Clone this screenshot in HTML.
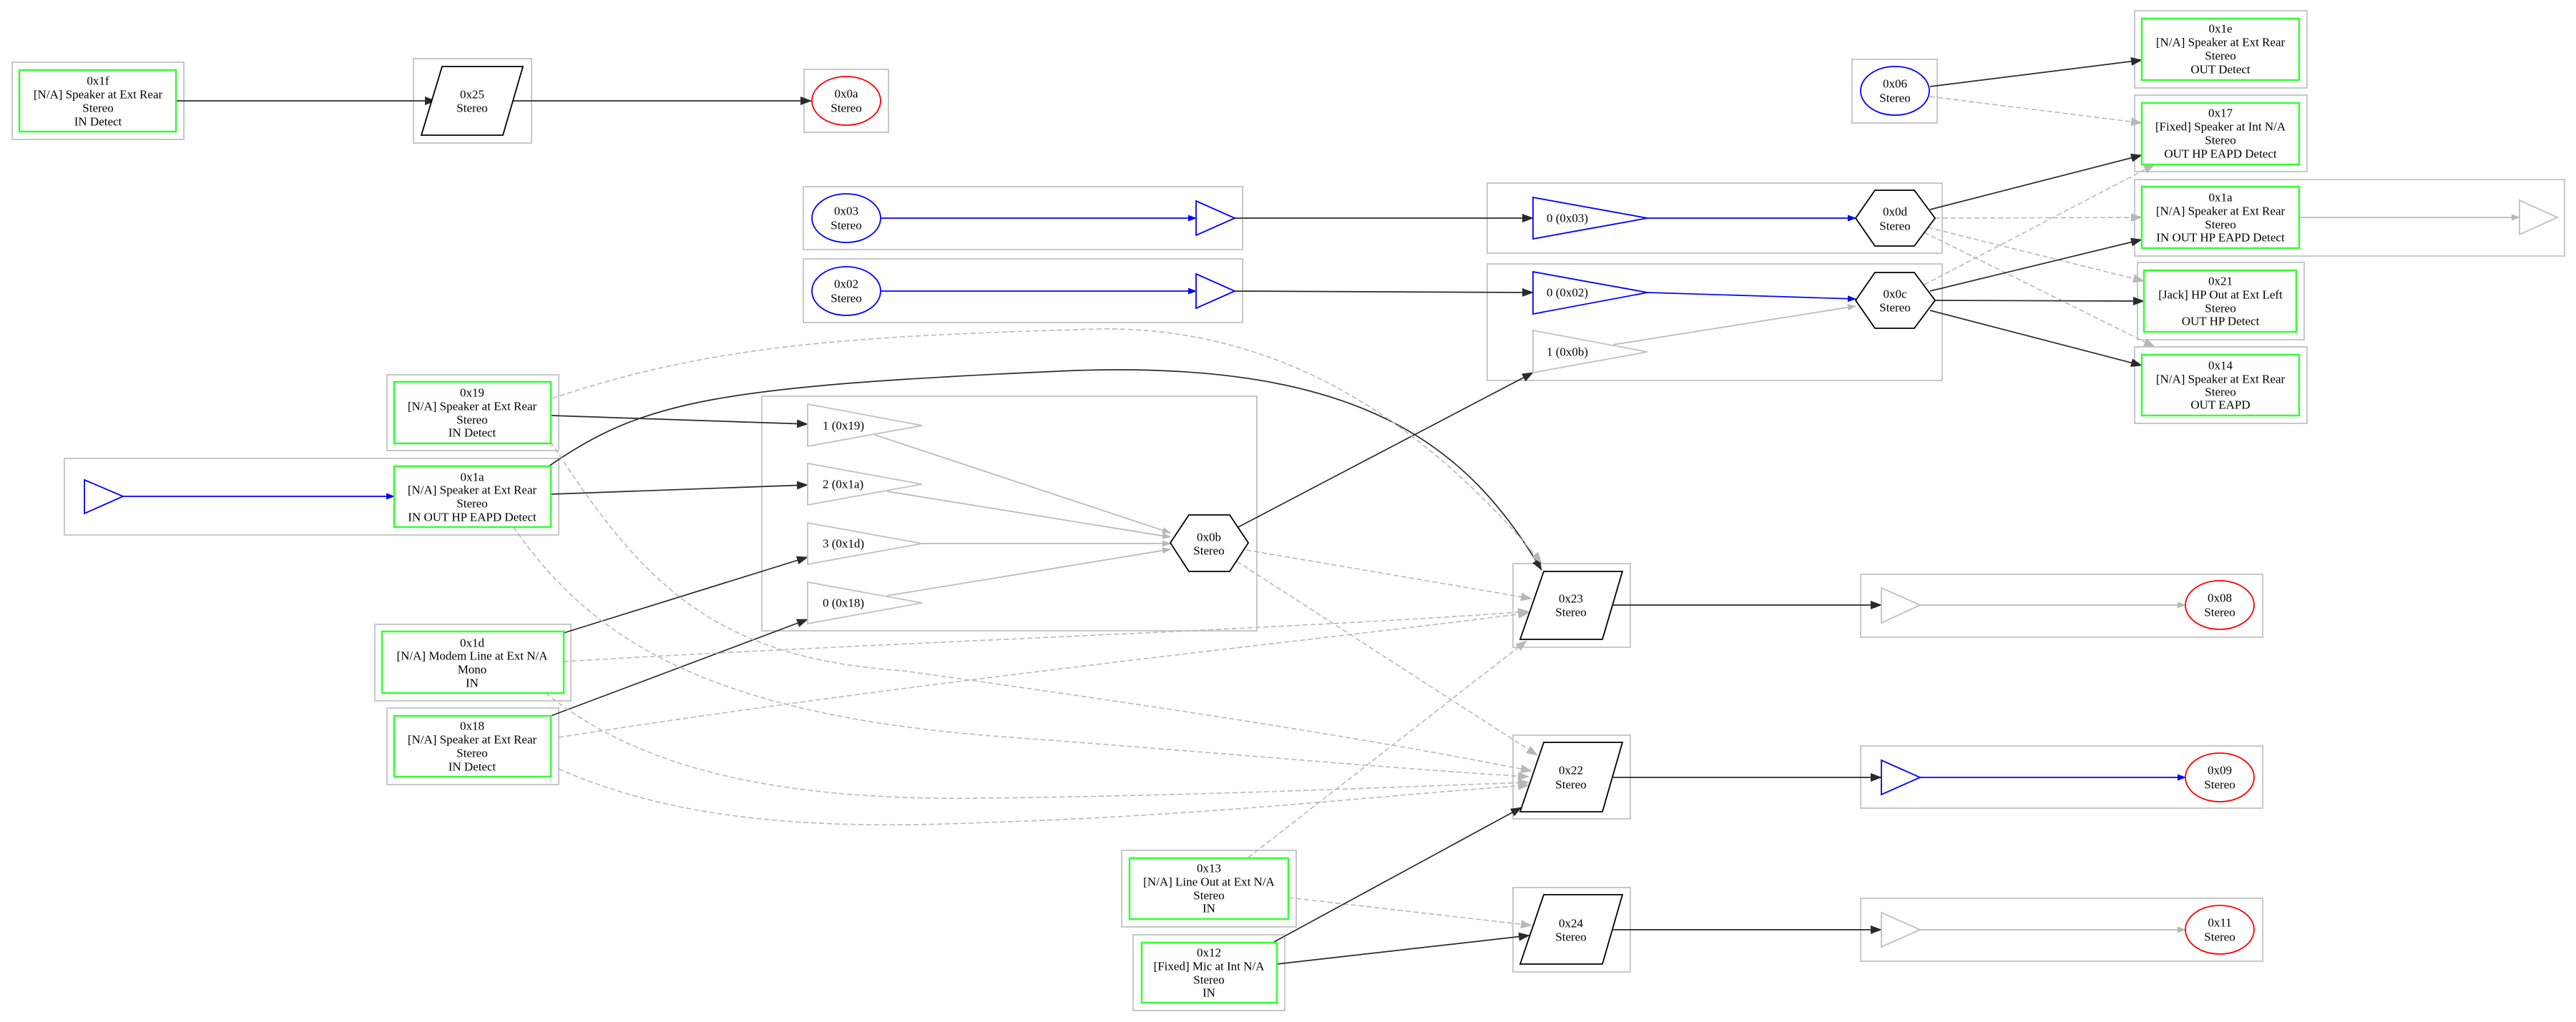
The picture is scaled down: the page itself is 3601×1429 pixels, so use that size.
<!DOCTYPE html>
<html><head><meta charset="utf-8"><style>
html,body{margin:0;padding:0;background:#fff;}
svg{display:block;}
text{font-family:"Liberation Serif",serif;font-size:17px;fill:#000;text-anchor:middle;dominant-baseline:central;}
.cl{fill:none;stroke:#c8c8c8;stroke-width:2;}
.gn{fill:none;stroke:#33ff33;stroke-width:2.5;}
.k{fill:none;stroke:#2a2a2a;stroke-width:1.7;}
.g{fill:none;stroke:#b8b8b8;stroke-width:1.7;}
.gd{fill:none;stroke:#b8b8b8;stroke-width:1.6;stroke-dasharray:7,4;}
.b{fill:none;stroke:#0000ff;stroke-width:1.7;}
.sh{fill:#fff;stroke:#000;stroke-width:1.8;}
.tb{fill:#fff;stroke:#0000ff;stroke-width:1.8;}
.tg{fill:#fff;stroke:#c0c0c0;stroke-width:1.8;}
</style></head><body>
<svg width="3601" height="1429" viewBox="0 0 3601 1429" xmlns="http://www.w3.org/2000/svg">
<defs>
<marker id="ak" markerUnits="userSpaceOnUse" markerWidth="16" markerHeight="12" refX="15" refY="6" orient="auto"><path d="M0,0 L16,6 L0,12 z" fill="#2a2a2a"/></marker>
<marker id="ag" markerUnits="userSpaceOnUse" markerWidth="16" markerHeight="12" refX="15" refY="6" orient="auto"><path d="M0,0 L16,6 L0,12 z" fill="#b8b8b8"/></marker>
<marker id="ab" markerUnits="userSpaceOnUse" markerWidth="12" markerHeight="9" refX="11" refY="4.5" orient="auto"><path d="M0,0 L12,4.5 L0,9 z" fill="#0000ff"/></marker>
<marker id="as" markerUnits="userSpaceOnUse" markerWidth="12" markerHeight="9" refX="11" refY="4.5" orient="auto"><path d="M0,0 L12,4.5 L0,9 z" fill="#b8b8b8"/></marker>
</defs>

<rect class="cl" x="17" y="87" width="240" height="108"/>
<rect class="cl" x="578" y="82" width="165" height="118"/>
<rect class="cl" x="1124" y="97" width="118" height="88"/>
<rect class="cl" x="1123" y="261" width="614" height="88"/>
<rect class="cl" x="1123" y="362" width="614" height="89"/>
<rect class="cl" x="2589" y="83" width="119" height="89"/>
<rect class="cl" x="2984" y="15" width="241" height="108"/>
<rect class="cl" x="2984" y="133" width="241" height="107"/>
<rect class="cl" x="2984" y="251" width="601" height="107"/>
<rect class="cl" x="2988" y="367" width="233" height="108"/>
<rect class="cl" x="2984" y="485" width="241" height="107"/>
<rect class="cl" x="2079" y="256" width="636" height="98"/>
<rect class="cl" x="2079" y="369" width="636" height="163"/>
<rect class="cl" x="541" y="524" width="240" height="106"/>
<rect class="cl" x="90" y="641" width="691" height="107"/>
<rect class="cl" x="524" y="873" width="274" height="107"/>
<rect class="cl" x="541" y="990" width="240" height="107"/>
<rect class="cl" x="1065" y="554" width="692" height="328"/>
<rect class="cl" x="1568" y="1189" width="244" height="107"/>
<rect class="cl" x="1584" y="1307" width="212" height="106"/>
<rect class="cl" x="2115" y="788" width="164" height="117"/>
<rect class="cl" x="2115" y="1028" width="164" height="117"/>
<rect class="cl" x="2115" y="1241" width="164" height="118"/>
<rect class="cl" x="2601" y="803" width="562" height="88"/>
<rect class="cl" x="2601" y="1043" width="562" height="87"/>
<rect class="cl" x="2601" y="1256" width="562" height="88"/>

<path class="k" d="M246,141 L609,141" marker-end="url(#ak)"/>
<path class="k" d="M717,141 L1134,141" marker-end="url(#ak)"/>
<path class="b" d="M1232,305 L1672,305" marker-end="url(#ab)"/>
<path class="b" d="M1232,407 L1672,407" marker-end="url(#ab)"/>
<path class="k" d="M1726,305 L2143,305" marker-end="url(#ak)"/>
<path class="k" d="M1726,407 L2143,409" marker-end="url(#ak)"/>
<path class="b" d="M2303,305 L2594,305" marker-end="url(#ab)"/>
<path class="b" d="M2303,409 L2594,418" marker-end="url(#ab)"/>
<path class="g" d="M2255,482 L2594,428" marker-end="url(#as)"/>
<path class="k" d="M2698,121 L2994,84" marker-end="url(#ak)"/>
<path class="gd" d="M2698,135 L2994,172" marker-end="url(#ag)"/>
<path class="k" d="M2698,293 L2994,217" marker-end="url(#ak)"/>
<path class="gd" d="M2705,305 L2994,304" marker-end="url(#ag)"/>
<path class="gd" d="M2695,318 L2997,393" marker-end="url(#ag)"/>
<path class="gd" d="M2690,325 L3012,485" marker-end="url(#ag)"/>
<path class="gd" d="M2690,398 L3012,230" marker-end="url(#ag)"/>
<path class="k" d="M2698,407 L2994,335" marker-end="url(#ak)"/>
<path class="k" d="M2705,420 L2997,421" marker-end="url(#ak)"/>
<path class="k" d="M2698,434 L2994,511" marker-end="url(#ak)"/>
<path class="g" d="M3214,304 L3522,304" marker-end="url(#as)"/>
<path class="b" d="M172,694 L551,694" marker-end="url(#ab)"/>
<path class="k" d="M770,581 L1129,593" marker-end="url(#ak)"/>
<path class="k" d="M770,691 L1129,678" marker-end="url(#ak)"/>
<path class="k" d="M788,885 L1129,779" marker-end="url(#ak)"/>
<path class="k" d="M770,1001 L1129,866" marker-end="url(#ak)"/>
<path class="g" d="M1223,608 L1636,745" marker-end="url(#as)"/>
<path class="g" d="M1240,687 L1636,751" marker-end="url(#as)"/>
<path class="g" d="M1289,760 L1636,760" marker-end="url(#as)"/>
<path class="g" d="M1240,833 L1636,768" marker-end="url(#as)"/>
<path class="k" d="M1729,738 L2143,521" marker-end="url(#ak)"/>
<path class="gd" d="M1742,769 L2141,837" marker-end="url(#ag)"/>
<path class="gd" d="M1729,785 L2149,1056" marker-end="url(#ag)"/>
<path class="k" d="M767,652 C900,560 1000,540 1504,518 C1900,505 2050,620 2155,797" marker-end="url(#ak)"/>
<path class="gd" d="M772,557 C1000,480 1200,470 1533,460 C1800,455 2000,600 2155,787" marker-end="url(#ag)"/>
<path class="gd" d="M788,925 C1200,900 1800,880 2137,855" marker-end="url(#ag)"/>
<path class="gd" d="M781,1031 C1300,950 1800,900 2137,857" marker-end="url(#ag)"/>
<path class="gd" d="M770,618 C900,820 1000,920 1263,938 C1600,985 1900,1030 2141,1078" marker-end="url(#ag)"/>
<path class="gd" d="M718,737 C830,900 1000,1000 1400,1030 C1700,1052 1950,1075 2137,1086" marker-end="url(#ag)"/>
<path class="gd" d="M763,969 C900,1080 1100,1120 1378,1116 C1700,1112 1950,1100 2137,1094" marker-end="url(#ag)"/>
<path class="gd" d="M781,1075 C950,1150 1150,1160 1378,1150 C1700,1140 1950,1110 2137,1098" marker-end="url(#ag)"/>
<path class="gd" d="M1745,1199 L2134,896" marker-end="url(#ag)"/>
<path class="gd" d="M1801,1255 L2141,1294" marker-end="url(#ag)"/>
<path class="k" d="M1781,1317 L2127,1129" marker-end="url(#ak)"/>
<path class="k" d="M1785,1348 L2138,1308" marker-end="url(#ak)"/>
<path class="k" d="M2255,846 L2630,846" marker-end="url(#ak)"/>
<path class="k" d="M2255,1087 L2630,1087" marker-end="url(#ak)"/>
<path class="k" d="M2255,1300 L2630,1300" marker-end="url(#ak)"/>
<path class="g" d="M2684,846 L3055,846" marker-end="url(#as)"/>
<path class="b" d="M2684,1087 L3055,1087" marker-end="url(#ab)"/>
<path class="g" d="M2684,1300 L3055,1300" marker-end="url(#as)"/>

<rect class="gn" x="27" y="98" width="219" height="86" fill="#fff"/>
<text x="137" y="113">0x1f</text><text x="137" y="132">[N/A] Speaker at Ext Rear</text><text x="137" y="151">Stereo</text><text x="137" y="170">IN Detect</text>

<rect class="gn" x="2994" y="26" width="220" height="86" fill="#fff"/>
<text x="3104" y="40">0x1e</text><text x="3104" y="59">[N/A] Speaker at Ext Rear</text><text x="3104" y="78">Stereo</text><text x="3104" y="97">OUT Detect</text>
<rect class="gn" x="2994" y="144" width="220" height="86" fill="#fff"/>
<text x="3104" y="158">0x17</text><text x="3104" y="177">[Fixed] Speaker at Int N/A</text><text x="3104" y="196">Stereo</text><text x="3104" y="215">OUT HP EAPD Detect</text>
<rect class="gn" x="2994" y="261" width="220" height="86" fill="#fff"/>
<text x="3104" y="276">0x1a</text><text x="3104" y="295">[N/A] Speaker at Ext Rear</text><text x="3104" y="314">Stereo</text><text x="3104" y="332">IN OUT HP EAPD Detect</text>
<rect class="gn" x="2997" y="378" width="213" height="86" fill="#fff"/>
<text x="3104" y="393">0x21</text><text x="3104" y="412">[Jack] HP Out at Ext Left</text><text x="3104" y="431">Stereo</text><text x="3104" y="449">OUT HP Detect</text>
<rect class="gn" x="2994" y="496" width="220" height="85" fill="#fff"/>
<text x="3104" y="511">0x14</text><text x="3104" y="530">[N/A] Speaker at Ext Rear</text><text x="3104" y="548">Stereo</text><text x="3104" y="566">OUT EAPD</text>

<rect class="gn" x="551" y="534" width="219" height="86" fill="#fff"/>
<text x="660" y="549">0x19</text><text x="660" y="568">[N/A] Speaker at Ext Rear</text><text x="660" y="587">Stereo</text><text x="660" y="605">IN Detect</text>
<rect class="gn" x="551" y="652" width="219" height="85" fill="#fff"/>
<text x="660" y="667">0x1a</text><text x="660" y="685">[N/A] Speaker at Ext Rear</text><text x="660" y="704">Stereo</text><text x="660" y="723">IN OUT HP EAPD Detect</text>
<rect class="gn" x="534" y="883" width="254" height="86" fill="#fff"/>
<text x="660" y="899">0x1d</text><text x="660" y="917">[N/A] Modem Line at Ext N/A</text><text x="660" y="936">Mono</text><text x="660" y="955">IN</text>
<rect class="gn" x="551" y="1001" width="219" height="85" fill="#fff"/>
<text x="660" y="1015">0x18</text><text x="660" y="1034">[N/A] Speaker at Ext Rear</text><text x="660" y="1053">Stereo</text><text x="660" y="1072">IN Detect</text>
<rect class="gn" x="1579" y="1200" width="222" height="85" fill="#fff"/>
<text x="1690" y="1214">0x13</text><text x="1690" y="1233">[N/A] Line Out at Ext N/A</text><text x="1690" y="1252">Stereo</text><text x="1690" y="1270">IN</text>
<rect class="gn" x="1596" y="1318" width="189" height="84" fill="#fff"/>
<text x="1690" y="1332">0x12</text><text x="1690" y="1351">[Fixed] Mic at Int N/A</text><text x="1690" y="1370">Stereo</text><text x="1690" y="1388">IN</text>

<polygon class="sh" points="618,93 731,93 703,189 589,189"/>
<text x="660" y="132">0x25</text><text x="660" y="151">Stereo</text>
<polygon class="sh" points="2158,799 2268,799 2240,894 2125,894"/>
<text x="2196" y="837">0x23</text><text x="2196" y="856">Stereo</text>
<polygon class="sh" points="2158,1038 2268,1038 2240,1135 2125,1135"/>
<text x="2196" y="1077">0x22</text><text x="2196" y="1097">Stereo</text>
<polygon class="sh" points="2158,1251 2268,1251 2240,1348 2125,1348"/>
<text x="2196" y="1291">0x24</text><text x="2196" y="1310">Stereo</text>

<ellipse cx="1183" cy="141" rx="48" ry="34" fill="#fff" stroke="#ff0000" stroke-width="1.8"/>
<text x="1183" y="131">0x0a</text><text x="1183" y="151">Stereo</text>
<ellipse cx="1183" cy="305" rx="48" ry="34" fill="#fff" stroke="#0000ff" stroke-width="1.8"/>
<text x="1183" y="295">0x03</text><text x="1183" y="315">Stereo</text>
<ellipse cx="1183" cy="407" rx="48" ry="34" fill="#fff" stroke="#0000ff" stroke-width="1.8"/>
<text x="1183" y="397">0x02</text><text x="1183" y="417">Stereo</text>
<ellipse cx="2649" cy="127" rx="48" ry="34" fill="#fff" stroke="#0000ff" stroke-width="1.8"/>
<text x="2649" y="117">0x06</text><text x="2649" y="137">Stereo</text>
<ellipse cx="3103" cy="846" rx="48" ry="34" fill="#fff" stroke="#ff0000" stroke-width="1.8"/>
<text x="3103" y="836">0x08</text><text x="3103" y="856">Stereo</text>
<ellipse cx="3103" cy="1087" rx="48" ry="34" fill="#fff" stroke="#ff0000" stroke-width="1.8"/>
<text x="3103" y="1077">0x09</text><text x="3103" y="1097">Stereo</text>
<ellipse cx="3103" cy="1300" rx="48" ry="34" fill="#fff" stroke="#ff0000" stroke-width="1.8"/>
<text x="3103" y="1290">0x11</text><text x="3103" y="1310">Stereo</text>

<polygon class="sh" points="2594,305 2621,266 2676,266 2705,305 2676,344 2621,344"/>
<text x="2649" y="296">0x0d</text><text x="2649" y="316">Stereo</text>
<polygon class="sh" points="2594,420 2621,381 2676,381 2705,420 2676,459 2621,459"/>
<text x="2649" y="411">0x0c</text><text x="2649" y="430">Stereo</text>
<polygon class="sh" points="1636,759 1662,720 1719,720 1745,759 1719,799 1662,799"/>
<text x="1690" y="751">0x0b</text><text x="1690" y="770">Stereo</text>

<polygon class="tb" points="1672,281 1726,305 1672,329"/>
<polygon class="tb" points="1672,383 1726,407 1672,431"/>
<polygon class="tb" points="118,671 172,694 118,718"/>
<polygon class="tb" points="2143,276 2303,305 2143,334"/>
<text x="2162" y="305" style="text-anchor:start">0 (0x03)</text>
<polygon class="tb" points="2143,380 2303,409 2143,439"/>
<text x="2162" y="409" style="text-anchor:start">0 (0x02)</text>
<polygon class="tg" points="2143,462 2303,492 2143,521"/>
<text x="2162" y="492" style="text-anchor:start">1 (0x0b)</text>
<polygon class="tg" points="3522,280 3575,304 3522,328" fill="none"/>
<polygon class="tg" points="1129,565 1289,595 1129,624"/>
<text x="1150" y="595" style="text-anchor:start">1 (0x19)</text>
<polygon class="tg" points="1129,648 1289,677 1129,706"/>
<text x="1150" y="677" style="text-anchor:start">2 (0x1a)</text>
<polygon class="tg" points="1129,731 1289,760 1129,789"/>
<text x="1150" y="760" style="text-anchor:start">3 (0x1d)</text>
<polygon class="tg" points="1129,814 1289,843 1129,872"/>
<text x="1150" y="843" style="text-anchor:start">0 (0x18)</text>
<polygon class="tg" points="2630,822 2684,846 2630,871"/>
<polygon class="tb" points="2630,1063 2684,1087 2630,1111"/>
<polygon class="tg" points="2630,1276 2684,1300 2630,1324"/>
</svg>
</body></html>
